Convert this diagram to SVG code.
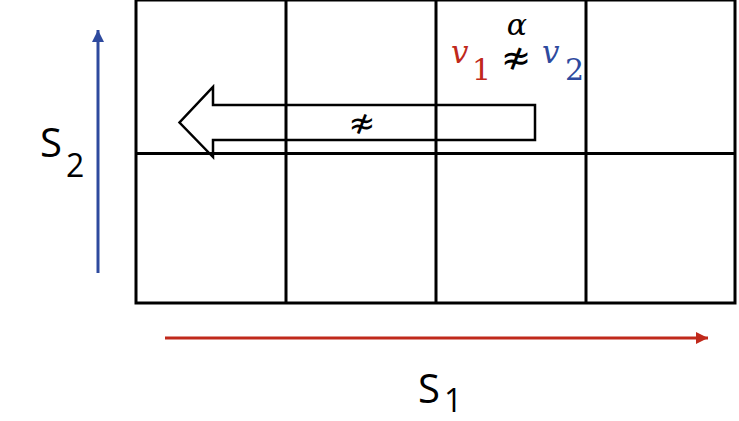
<svg xmlns="http://www.w3.org/2000/svg" width="739" height="421" viewBox="0 0 739 421">
<style>
.grid{fill:none;stroke:#000;stroke-width:3}
.lbl{font-family:"Open Sans","Noto Sans",sans-serif;fill:#000}
.math{font-family:"DejaVu Serif","Liberation Serif",serif;font-style:italic}
.num{font-family:"DejaVu Serif","Liberation Serif",serif}
.rel{font-family:"DejaVu Sans",sans-serif;fill:#000}
.red{fill:#C0291B}
.blue{fill:#2E4A9E}
</style>
<defs>
<marker id="ahR" markerWidth="12" markerHeight="12" refX="12" refY="6" orient="auto" markerUnits="userSpaceOnUse"><path d="M0,0 L12,6 L0,12 Z" fill="#C0291B"/></marker>
<marker id="ahB" markerWidth="12" markerHeight="12" refX="12" refY="6" orient="auto" markerUnits="userSpaceOnUse"><path d="M0,0 L12,6 L0,12 Z" fill="#2E4A9E"/></marker>
</defs>
<g id="grid">
<rect class="grid" x="136" y="0" width="599" height="303"/>
<line class="grid" x1="286" y1="0" x2="286" y2="303"/>
<line class="grid" x1="436" y1="0" x2="436" y2="303"/>
<line class="grid" x1="586" y1="0" x2="586" y2="303"/>
<line class="grid" x1="136" y1="153.5" x2="735" y2="153.5"/>
</g>
<g id="cell-label">
<text class="math" x="517" y="35" font-size="30" text-anchor="middle">α</text>
<text class="math red" x="451" y="63" font-size="31">v</text>
<text class="num red" x="472" y="80" font-size="30">1</text>
<text class="rel" x="516" y="70" font-size="36" text-anchor="middle">≉</text>
<text class="math blue" x="542" y="63" font-size="31">v</text>
<text class="num blue" x="565" y="80" font-size="30">2</text>
</g>
<g id="block-arrow">
<path d="M535,105 L213,105 L213,87 L179.5,122.5 L213,157 L213,140 L535,140 Z" fill="none" stroke="#000" stroke-width="2.5" stroke-linejoin="miter"/>
<text class="rel" x="362" y="134" font-size="32" text-anchor="middle">≉</text>
</g>
<g id="connectors">
<line x1="165" y1="338" x2="708" y2="338" stroke="#C0291B" stroke-width="3" marker-end="url(#ahR)"/>
<line x1="98" y1="273" x2="98" y2="30" stroke="#2E4A9E" stroke-width="3" marker-end="url(#ahB)"/>
</g>
<g id="s1-label">
<text class="lbl" x="418" y="403" font-size="40">S</text>
<text class="lbl" x="444" y="412" font-size="32">1</text>
</g>
<g id="s2-label">
<text class="lbl" x="40" y="157" font-size="40">S</text>
<text class="lbl" x="66" y="177" font-size="32">2</text>
</g>
</svg>
